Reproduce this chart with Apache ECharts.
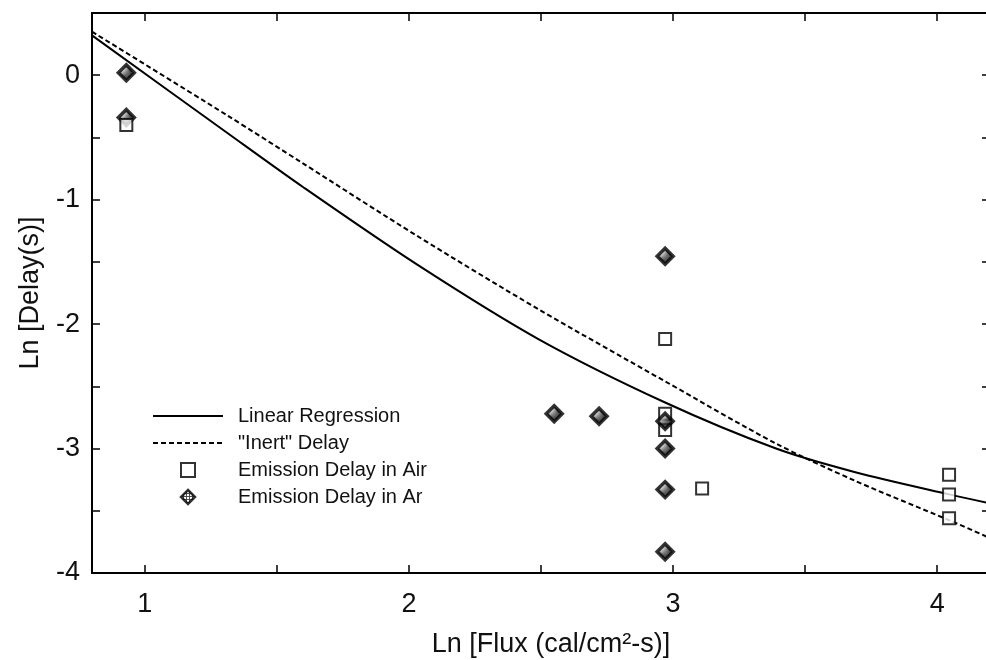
<!DOCTYPE html>
<html>
<head>
<meta charset="utf-8">
<script src="https://cdn.jsdelivr.net/npm/echarts@6/dist/echarts.min.js"></script>
<style>
  html, body { margin: 0; padding: 0; background: #fff; }
  #main { width: 986px; height: 660px; }
</style>
</head>
<body>
<div id="main"></div>
<script>
// curves: Ln flux positions and Ln delay values
const curveFlux = [0.8, 1.31, 1.6, 2.03, 2.49, 2.97, 3.39, 3.69, 4.05, 4.2];
const regressionDelay = [0.32, -0.46, -0.90, -1.52, -2.12, -2.63, -3.0, -3.19, -3.37, -3.44];
const inertDelay = [0.35, -0.32, -0.71, -1.29, -1.88, -2.46, -2.96, -3.26, -3.58, -3.72];

// measured points
const airFlux = [0.93, 2.97, 2.97, 2.97, 3.11, 4.045, 4.045, 4.045];
const airDelay = [-0.40, -2.12, -2.72, -2.85, -3.32, -3.21, -3.37, -3.56];
const arFlux = [0.93, 2.97, 2.55, 2.72, 2.97, 2.97, 2.97, 2.97];
const arDelay = [0.02, -1.455, -2.72, -2.74, -2.78, -3.00, -3.33, -3.83];
// this Ar point sits under an Air square in the original
const arHiddenFlux = [0.93];
const arHiddenDelay = [-0.34];

const yTicks = ['0', '-1', '-2', '-3', '-4'];
const xTicks = ['1', '2', '3', '4'];

const FONT = '"Liberation Sans", Arial, Helvetica, sans-serif';

function zip(a, b) {
  return a.map((v, i) => [v, b[i]]);
}

// hatched fill for the Ar diamonds
function hatch() {
  const c = document.createElement('canvas');
  c.width = 3; c.height = 3;
  const ctx = c.getContext('2d');
  ctx.fillStyle = '#fff';
  ctx.fillRect(0, 0, 3, 3);
  ctx.fillStyle = '#222';
  ctx.fillRect(0, 0, 1, 3);
  ctx.fillRect(0, 0, 3, 1);
  return { image: c, repeat: 'repeat' };
}

const chart = echarts.init(document.getElementById('main'));

const axisLine = { show: true, onZero: false, lineStyle: { color: '#000', width: 2 } };
const axisTick = { show: true, inside: true, length: 8, lineStyle: { color: '#000', width: 1.5 } };

const arStyle = { color: hatch(), borderColor: '#000', borderWidth: 3.5 };
const airStyle = { color: '#fff', borderColor: '#000', borderWidth: 2 };

const option = {
  animation: false,
  backgroundColor: '#fff',
  grid: { left: 92, top: 13, width: 898, bottom: 87, outerBoundsMode: 'none' },
  legend: {
    orient: 'vertical',
    left: 147,
    top: 401,
    itemWidth: 70,
    itemHeight: 14,
    itemGap: 7,
    textStyle: { fontFamily: FONT, fontSize: 20, color: '#111', padding: [0, 0, 0, 10] },
    data: [
      { name: 'Linear Regression', itemStyle: { opacity: 0 } },
      { name: '"Inert" Delay', itemStyle: { opacity: 0 } },
      { name: 'Emission Delay in Air', icon: 'path://M0,0L10,0L10,10L0,10Z' },
      { name: 'Emission Delay in Ar', icon: 'path://M5,0L10,5L5,10L0,5Z', itemStyle: { borderWidth: 2.5 } }
    ]
  },
  xAxis: [{
    type: 'value',
    min: 0.8,
    max: 4.2,
    splitNumber: 7,
    axisLine: axisLine,
    axisTick: axisTick,
    splitLine: { show: false },
    axisLabel: {
      margin: 18,
      fontFamily: FONT, fontSize: 27, color: '#111',
      formatter: v => xTicks.includes(String(v)) ? String(v) : ''
    },
    name: 'Ln [Flux (cal/cm²-s)]',
    nameLocation: 'middle',
    nameGap: 58,
    nameTextStyle: { fontFamily: FONT, fontSize: 27, color: '#111', padding: [0, 0, 0, 20] }
  }, {
    type: 'value',
    position: 'top',
    min: 0.8,
    max: 4.2,
    splitNumber: 7,
    axisLine: axisLine,
    axisTick: axisTick,
    axisLabel: { show: false },
    splitLine: { show: false }
  }],
  yAxis: [{
    type: 'value',
    min: -4,
    max: 0.5,
    interval: 0.5,
    axisLine: axisLine,
    axisTick: axisTick,
    splitLine: { show: false },
    axisLabel: {
      margin: 12,
      fontFamily: FONT, fontSize: 27, color: '#111',
      formatter: v => yTicks.includes(String(v)) ? String(v) : ''
    },
    name: 'Ln [Delay(s)]',
    nameLocation: 'middle',
    nameGap: 48,
    nameTextStyle: { fontFamily: FONT, fontSize: 27, color: '#111' }
  }, {
    type: 'value',
    position: 'right',
    min: -4,
    max: 0.5,
    interval: 0.5,
    axisLine: axisLine,
    axisTick: axisTick,
    axisLabel: { show: false },
    splitLine: { show: false }
  }],
  series: [{
    name: 'Linear Regression',
    type: 'line',
    smooth: 0.3,
    symbol: 'none',
    data: zip(curveFlux, regressionDelay),
    lineStyle: { color: '#000', width: 2 },
    itemStyle: { color: '#000' },
    z: 2
  }, {
    name: '"Inert" Delay',
    type: 'line',
    smooth: 0.3,
    symbol: 'none',
    data: zip(curveFlux, inertDelay),
    lineStyle: { color: '#000', width: 2, type: [5, 3] },
    itemStyle: { color: '#000' },
    z: 2
  }, {
    name: 'Emission Delay in Ar',
    type: 'scatter',
    symbol: 'diamond',
    symbolSize: 16,
    data: zip(arHiddenFlux, arHiddenDelay),
    itemStyle: arStyle,
    z: 3
  }, {
    name: 'Emission Delay in Air',
    type: 'scatter',
    symbol: 'rect',
    symbolSize: 12,
    data: zip(airFlux, airDelay),
    itemStyle: airStyle,
    z: 4
  }, {
    name: 'Emission Delay in Ar',
    type: 'scatter',
    symbol: 'diamond',
    symbolSize: 16,
    data: zip(arFlux, arDelay),
    itemStyle: arStyle,
    z: 5
  }]
};

chart.setOption(option);
</script>
</body>
</html>
